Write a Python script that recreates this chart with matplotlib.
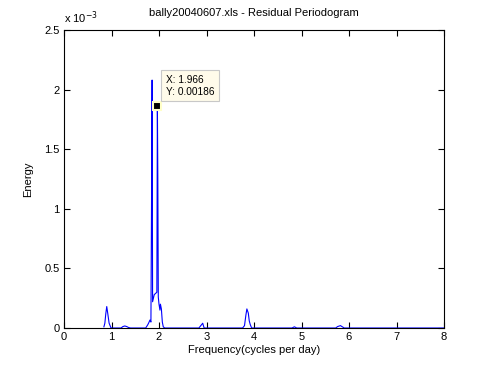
import matplotlib
matplotlib.use('Agg')
import matplotlib.pyplot as plt

# residual periodogram (energy in units of 1e-3)
freq = [0.84, 0.86, 0.88, 0.90, 0.92, 0.95, 0.97, 0.99, 1.20, 1.24, 1.28, 1.32, 1.36,
        1.40, 1.72, 1.76, 1.78, 1.81, 1.83, 1.84, 1.855, 1.865, 1.90, 1.955, 1.966,
        1.975, 1.985, 2.00, 2.02, 2.03, 2.05, 2.07, 2.09, 2.12, 2.84, 2.88, 2.92, 2.95,
        3.76, 3.80, 3.83, 3.85, 3.88, 3.90, 3.92, 3.95, 4.80, 4.85, 4.90, 4.94,
        5.72, 5.76, 5.82, 5.86, 5.90, 8.0]
energy_e3 = [0.01, 0.04, 0.12, 0.18, 0.125, 0.04, 0.02, 0.0, 0.0, 0.012, 0.017, 0.012, 0.004,
             0.0, 0.0, 0.025, 0.04, 0.067, 0.05, 0.82, 2.08, 0.22, 0.28, 0.3, 1.86,
             1.28, 0.26, 0.2, 0.15, 0.2, 0.16, 0.05, 0.01, 0.0, 0.0, 0.02, 0.04, 0.0,
             0.0, 0.02, 0.11, 0.16, 0.125, 0.06, 0.03, 0.0, 0.0, 0.01, 0.0, 0.0,
             0.0, 0.012, 0.02, 0.01, 0.0, 0.0]
energy = [e * 1e-3 for e in energy_e3]

tip_x = 1.966
tip_y = 0.00186

xticks = [0, 1, 2, 3, 4, 5, 6, 7, 8]
yticks_e3 = [0, 0.5, 1, 1.5, 2, 2.5]

plt.rcParams['font.family'] = ['Liberation Sans', 'DejaVu Sans']
plt.rcParams['font.size'] = 8

fig = plt.figure(figsize=(4.93, 3.70), dpi=100)
ax = fig.add_axes([64 / 493, 42 / 370, 380 / 493, 298 / 370])

ax.plot(freq, energy, color='#0000ff', lw=0.8)

# data tip marker + box
ax.plot([tip_x], [tip_y], marker='s', ms=6, mfc='black', mec='#ffffc8', mew=1.5)
ax.annotate(f'X: {tip_x:g}\nY: {tip_y:g}', xy=(tip_x, tip_y), xytext=(6, 7),
            textcoords='offset points', ha='left', va='bottom', fontsize=7.3,
            linespacing=1.2,
            bbox=dict(boxstyle='square,pad=0.45', fc='#fffbea', ec='#c8c8c8', lw=0.8))

ax.set_xlim(0, 8)
ax.set_ylim(0, 2.5e-3)
ax.set_xticks(xticks)
ax.set_yticks([v * 1e-3 for v in yticks_e3])
ax.set_yticklabels([f'{v:g}' for v in yticks_e3])
ax.tick_params(direction='in', top=True, right=True, length=4, width=0.8, pad=3)
for s in ax.spines.values():
    s.set_linewidth(0.8)

ax.text(0, 1.015, r'x 10$^{-3}$', transform=ax.transAxes, ha='left', va='bottom')
ax.set_title('bally20040607.xls - Residual Periodogram', fontsize=8, pad=10)
ax.set_xlabel('Frequency(cycles per day)', labelpad=2)
ax.set_ylabel('Energy', labelpad=8)

fig.savefig('out.png', dpi=100)
